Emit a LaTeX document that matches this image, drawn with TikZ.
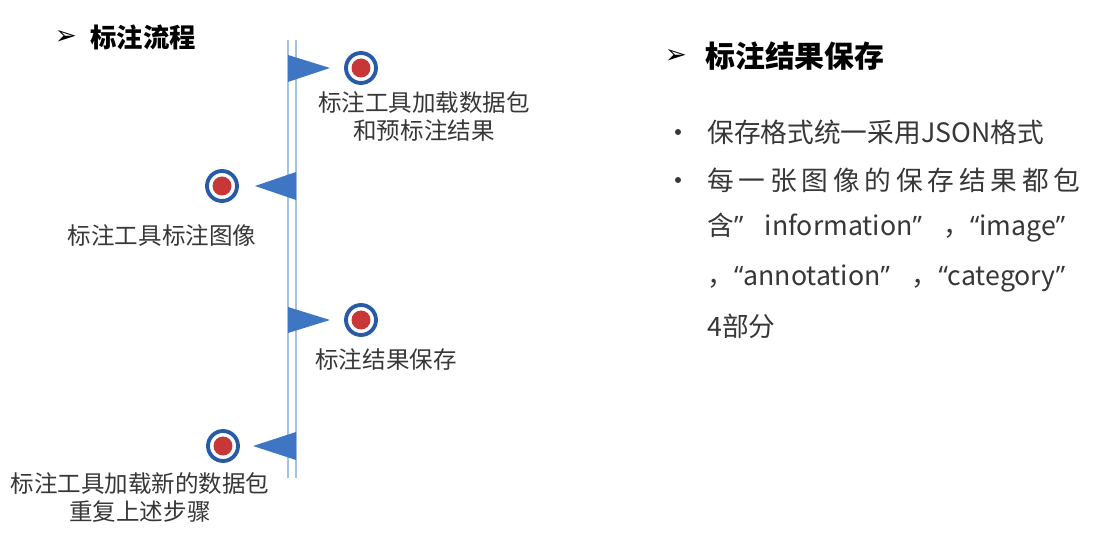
\documentclass[tikz,border=0pt]{standalone}
\usepackage{fontspec}
\setmainfont{Noto Sans CJK SC}
\newfontfamily\dingfont{DejaVu Sans}
\newfontfamily\quotefont{Open Sans}
\usetikzlibrary{positioning}

\definecolor{lineblue}{RGB}{165,193,228}
\definecolor{flagblue}{RGB}{62,118,196}
\definecolor{ringblue}{RGB}{40,90,165}
\definecolor{dotred}{RGB}{200,55,55}
\definecolor{txtgray}{RGB}{55,55,55}

\newcommand{\openq}{{\quotefont “}}
\newcommand{\closeq}{{\quotefont ”}}

\begin{document}
\begin{tikzpicture}[x=0.02cm, y=-0.02cm,
	dot/.style = { circle, draw=ringblue, line width=2.2pt, fill=white,
			minimum size=0.6cm, inner sep=0pt,
			path picture={\fill[dotred] (path picture bounding box.center) circle (0.19cm);} },
	flag/.style = { fill=flagblue },
	steplabel/.style = { font=\fontsize{13.4}{16}\selectfont, text=txtgray,
			align=center, inner sep=0pt, anchor=north },
	arrowmark/.style = { font=\dingfont\fontsize{15}{15}\selectfont, inner sep=0pt },
	heading/.style = { font=\bfseries\fontsize{#1}{#1}\selectfont, anchor=west, inner sep=0pt },
	bodytext/.style = { font=\fontsize{15.2}{18}\selectfont, text=txtgray, anchor=west, inner sep=0pt }]

  \useasboundingbox (0,0) rectangle (1103,553);

  % timeline
  \coordinate (top) at (292,40);
  \coordinate (bottom) at (292,478);
  \draw [lineblue, line width=1.2pt] ([xshift=-4*0.02cm]top) -- ([xshift=-4*0.02cm]bottom);
  \draw [lineblue, line width=1.2pt] ([xshift=4*0.02cm]top) -- ([xshift=4*0.02cm]bottom);

  % flags and dots
  \fill [flag] (288,55) -- (330,68) -- (288,82) -- cycle;
  \fill [flag] (296,172) -- (255,186) -- (296,200) -- cycle;
  \fill [flag] (288,307) -- (330,320) -- (288,333) -- cycle;
  \fill [flag] (296,432) -- (253,446) -- (296,460) -- cycle;

  \node[name=load, dot] at (361,68) {};
  \node[name=mark, dot] at (222,186) {};
  \node[name=save, dot] at (361,320) {};
  \node[name=next, dot] at (223,446) {};

  \node[name=loadtxt, steplabel] at (424,91) {标注工具加载数据包\\和预标注结果};
  \node[name=marktxt, steplabel] at (162,224) {标注工具标注图像};
  \node[name=savetxt, steplabel] at (386,348) {标注结果保存};
  \node[name=nexttxt, steplabel] at (140,472) {标注工具加载新的数据包\\重复上述步骤};

  % headings
  \node[name=arrflow, arrowmark] at (66,37) {➢};
  \node[name=flow, heading=15] at (90,37) {标注流程};
  \node[name=arrsave, arrowmark] at (676,56) {➢};
  \node[name=savehead, heading=17] at (705,56) {标注结果保存};

  % bullet text
  \fill [txtgray] (678,132) circle (3*0.02cm);
  \fill [txtgray] (678,180) circle (3*0.02cm);
  \node[name=fmt, bodytext] at (707,132) {保存格式统一采用JSON格式};
  \node[name=each, bodytext] at (707,180)
    {\makebox[7.46cm][s]{每\hfill 一\hfill 张\hfill 图\hfill 像\hfill 的\hfill 保\hfill 存\hfill 结\hfill 果\hfill 都\hfill 包}};
  \node[name=parts1, bodytext] at (707,228)
    {\makebox[7.16cm][s]{含\closeq\hfill information\closeq\hfill ，\openq image\closeq}};
  \node[name=parts2, bodytext] at (707,278)
    {\makebox[7.16cm][s]{，\openq annotation\closeq\hfill ，\openq category\closeq}};
  \node[name=parts3, bodytext] at (707,326) {4部分};
\end{tikzpicture}
\end{document}
